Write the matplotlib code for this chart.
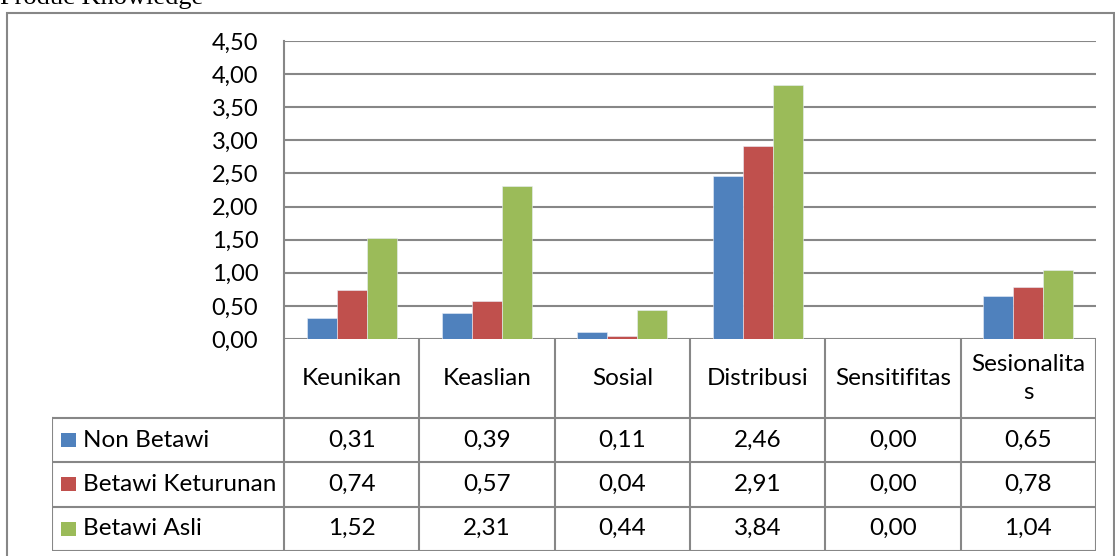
import numpy as np
import matplotlib.pyplot as plt
from matplotlib.patches import Rectangle

plt.rcParams["font.family"] = ["Lato", "DejaVu Sans"]

categories = ["Keunikan", "Keaslian", "Sosial", "Distribusi", "Sensitifitas", "Sesionalita\ns"]
series_names = ["Non Betawi", "Betawi Keturunan", "Betawi Asli"]
non_betawi = [0.31, 0.39, 0.11, 2.46, 0.00, 0.65]
betawi_keturunan = [0.74, 0.57, 0.04, 2.91, 0.00, 0.78]
betawi_asli = [1.52, 2.31, 0.44, 3.84, 0.00, 1.04]
yticks = [0.0, 0.5, 1.0, 1.5, 2.0, 2.5, 3.0, 3.5, 4.0, 4.5]

series = [non_betawi, betawi_keturunan, betawi_asli]
colors = ["#4f81bd", "#c0504d", "#9bbb59"]
grid_c = "#878787"
fs_tab = 17.5
fs_tick = 17

W, H = 1115, 556
fig = plt.figure(figsize=(W / 100, H / 100), dpi=100)


def fx(px):
    return px / W


def fy(py):
    return 1 - py / H


# outer chart frame
fig.patches.append(
    Rectangle((fx(7), -0.1), fx(1114) - fx(7), fy(13) + 0.1,
              transform=fig.transFigure, fill=False, edgecolor=grid_c, lw=1.5)
)
fig.text(0, fy(4), "Produc Knowledge", fontsize=19, family="Liberation Serif",
         va="baseline", ha="left")

# bar area
x_left, x_right, y_top, y_zero = 284, 1096, 41, 339
ax = fig.add_axes([fx(x_left), fy(y_zero), fx(x_right) - fx(x_left), fy(y_top) - fy(y_zero)])
x = np.arange(len(categories))
bw = 0.222
for i, (vals, c) in enumerate(zip(series, colors)):
    ax.bar(x + (i - 1) * bw, vals, width=bw, color=c, edgecolor="#e8eef8", lw=0.4, zorder=3)
ax.set_xlim(-0.5, len(categories) - 0.5)
ax.set_ylim(0, 4.5)
ax.set_yticks(yticks)
ax.set_yticklabels([f"{v:.2f}".replace(".", ",") for v in yticks], fontsize=fs_tick)
ax.set_xticks([])
ax.tick_params(axis="y", length=0, pad=18.5)
ax.grid(axis="y", color=grid_c, lw=1.5, zorder=0)
for s in ["top", "right", "bottom"]:
    ax.spines[s].set_visible(False)
ax.spines["left"].set_color(grid_c)
ax.spines["left"].set_linewidth(1.5)
ax.patch.set_alpha(0)

# data table under the bars
t_left, t_bottom = 52, 551
col_w = (x_right - x_left) / len(categories)
row_h = 44.5
head_h = (418 - y_zero) / row_h
lab_w = (x_left - t_left) / col_w
tax = fig.add_axes([fx(t_left), fy(t_bottom), fx(x_right) - fx(t_left), fy(y_zero) - fy(t_bottom)])
tax.set_xlim(-0.5 - lab_w, len(categories) - 0.5)
tax.set_ylim(0, 3 + head_h)
tax.set_axis_off()

lk = dict(color=grid_c, lw=1.5, solid_capstyle="projecting")
for k in range(len(categories) + 1):
    tax.plot([k - 0.5, k - 0.5], [0, 3 + head_h], **lk)
tax.plot([-0.5 - lab_w] * 2, [0, 3], **lk)
for r in range(4):
    tax.plot([-0.5 - lab_w, len(categories) - 0.5], [r, r], **lk)

for j, cat in enumerate(categories):
    tax.text(j, 3 + head_h / 2, cat, ha="center", va="center", fontsize=fs_tab,
             linespacing=1.45)

for i, (name, vals, c) in enumerate(zip(series_names, series, colors)):
    yc = 2.5 - i
    tax.add_patch(Rectangle((-0.5 - lab_w + 9 / col_w, yc - 7 / row_h), 15 / col_w, 14 / row_h,
                            facecolor=c, edgecolor="none"))
    tax.text(-0.5 - lab_w + 31 / col_w, yc, name, ha="left", va="center", fontsize=fs_tab)
    for j, v in enumerate(vals):
        tax.text(j, yc, f"{v:.2f}".replace(".", ","), ha="center", va="center", fontsize=fs_tab)

fig.savefig("out.png", dpi=100)
